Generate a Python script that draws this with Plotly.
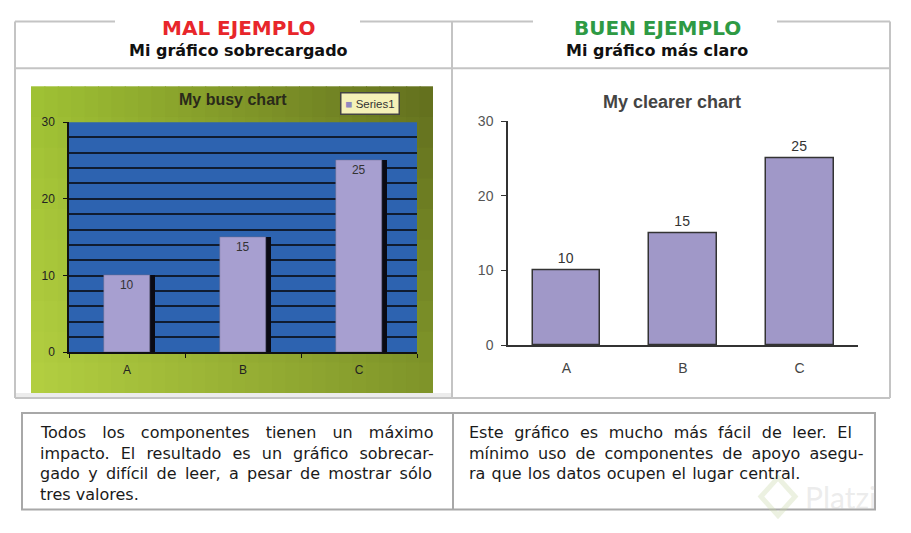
import plotly.graph_objects as go

# data
categories = ["A", "B", "C"]
values = [10, 15, 25]
series_name = "Series1"
y_ticks = [0, 10, 20, 30]

header_left = "MAL EJEMPLO"
sub_left = "Mi gráfico sobrecargado"
header_right = "BUEN EJEMPLO"
sub_right = "Mi gráfico más claro"
title_busy = "My busy chart"
title_clear = "My clearer chart"
text_left = ["Todos los componentes tienen un máximo",
             "impacto. El resultado es un gráfico sobrecar-",
             "gado y difícil de leer, a pesar de mostrar sólo",
             "tres valores."]
text_right = ["Este gráfico es mucho más fácil de leer. El",
              "mínimo uso de componentes de apoyo asegu-",
              "ra que los datos ocupen el lugar central."]

W, H = 911, 533
# page offset seen in the screenshot, compensate so pixels land where the reference has them
def px(x):
    return (x - 8) / W
def py(y):
    return 1 - (y / 0.974 - 14.8) / H

fig = go.Figure()

# busy chart: shadow + bars
fig.add_trace(go.Bar(x=categories, y=values, width=0.4, offset=-0.16,
                     marker=dict(color="#0a0a14", line=dict(width=0)),
                     showlegend=False, hoverinfo="skip", xaxis="x", yaxis="y"))
fig.add_trace(go.Bar(x=categories, y=values, width=0.4, offset=-0.2, name=series_name,
                     marker=dict(color="#a79fd0", line=dict(color="#6a6a8a", width=0.5)),
                     text=[str(v) for v in values], textposition="inside",
                     insidetextanchor="end", showlegend=False,
                     textfont=dict(family="Liberation Sans", size=12, color="#333"),
                     xaxis="x", yaxis="y"))

# clear chart
fig.add_trace(go.Bar(x=categories, y=values, width=0.58, showlegend=False,
                     marker=dict(color="#a098c8", line=dict(color="#333", width=1.5)),
                     text=[str(v) for v in values], textposition="outside",
                     textfont=dict(family="Liberation Sans", size=14, color="#333"),
                     cliponaxis=False, xaxis="x2", yaxis="y2"))

shapes = []
# green gradient behind busy chart
x0, x1, y0, y1 = 31, 433, 85, 393
nx, ny = 30, 10
tl, bl, tr, br = (160, 194, 52), (180, 208, 66), (98, 110, 30), (128, 150, 42)
for i in range(nx):
    for j in range(ny):
        u = (i + 0.5) / nx
        v = (j + 0.5) / ny
        c = [int(tl[k]*(1-u)*(1-v) + tr[k]*u*(1-v) + bl[k]*(1-u)*v + br[k]*u*v) for k in range(3)]
        xa = x0 + (x1 - x0) * i / nx
        xb = x0 + (x1 - x0) * (i + 1) / nx + 1
        ya = y0 + (y1 - y0) * j / ny
        yb = y0 + (y1 - y0) * (j + 1) / ny + 1
        shapes.append(dict(type="rect", xref="paper", yref="paper", layer="below",
                           x0=px(xa), x1=px(min(xb, x1)), y0=py(ya), y1=py(min(yb, y1)),
                           fillcolor="rgb(%d,%d,%d)" % tuple(c), line=dict(width=0)))
# grey strip under busy image
shapes.append(dict(type="rect", xref="paper", yref="paper", layer="below",
                   x0=px(16), x1=px(451), y0=py(398), y1=py(393),
                   fillcolor="#ececec", line=dict(width=0)))
# blue plot area
shapes.append(dict(type="rect", xref="x domain", yref="y domain", layer="below",
                   x0=0, x1=1, y0=0, y1=1, fillcolor="#2d63b0", line=dict(width=0)))

# frame lines
grey = "#c4c4c4"
def seg(xa, ya, xb, yb, color=grey, w=2):
    shapes.append(dict(type="line", xref="paper", yref="paper",
                       x0=px(xa), y0=py(ya), x1=px(xb), y1=py(yb),
                       line=dict(color=color, width=w)))
top = 20
seg(15, top, 115, top)
seg(360, top, 533, top)
seg(777, top, 890, top)
seg(15, top, 15, 398)
seg(452, top, 452, 398)
seg(890, top, 890, 398)
seg(15, 67, 890, 67)
seg(15, 398, 890, 398)
shapes.append(dict(type="rect", xref="paper", yref="paper",
                   x0=px(22), x1=px(875), y0=py(510), y1=py(413),
                   line=dict(color="#a8a8a8", width=2)))
seg(453, 413, 453, 510, color="#a8a8a8")
# faint watermark diamond
shapes.append(dict(type="path", xref="paper", yref="paper",
                   path="M %f %f L %f %f L %f %f L %f %f Z" % (
                       px(778), py(478), px(795), py(497), px(778), py(516), px(761), py(497)),
                   line=dict(color="rgba(200,215,170,0.35)", width=5)))

ann = []
hfont = "DejaVu Sans"
ann.append(dict(x=px(238), y=py(26.5), text="<b>%s</b>" % header_left,
                font=dict(family=hfont, size=20, color="#e8262b")))
ann.append(dict(x=px(238), y=py(49), text="<b>%s</b>" % sub_left,
                font=dict(family=hfont, size=16, color="#111")))
ann.append(dict(x=px(657), y=py(26.5), text="<b>%s</b>" % header_right,
                font=dict(family=hfont, size=20, color="#2e9a44")))
ann.append(dict(x=px(657), y=py(49), text="<b>%s</b>" % sub_right,
                font=dict(family=hfont, size=16, color="#111")))
ann.append(dict(x=px(233), y=py(98), text="<b>%s</b>" % title_busy,
                font=dict(family="Liberation Sans", size=16, color="#2a2a1a")))
ann.append(dict(x=px(672), y=py(101), text="<b>%s</b>" % title_clear,
                font=dict(family="Liberation Sans", size=18, color="#444")))
# legend box of the busy chart
ann.append(dict(x=px(370), y=py(102.5),
                text="<span style='color:#8f87bf'>■</span> " + series_name,
                font=dict(family="Liberation Sans", size=11.5, color="#333"),
                bgcolor="#f5f1b8", bordercolor="#444", borderwidth=1.5, borderpad=4))
# extra word spacing to imitate the justified paragraphs
spacing_left = [11, 6, 3.2, 0]
spacing_right = [5.5, 4, 1]
tfont = dict(family="DejaVu Sans", size=16, color="#1a1a1a")
for k, line in enumerate(text_left):
    ann.append(dict(x=px(38), y=py(433 + 20.5 * k), xanchor="left", font=tfont,
                    text="<span style='word-spacing:%gpx'>%s</span>" % (spacing_left[k], line)))
for k, line in enumerate(text_right):
    ann.append(dict(x=px(467), y=py(433 + 20.5 * k), xanchor="left", font=tfont,
                    text="<span style='word-spacing:%gpx'>%s</span>" % (spacing_right[k], line)))
ann.append(dict(x=px(803), y=py(497), text="Platzi", xanchor="left",
                font=dict(family="Lato", size=30, color="rgba(200,200,200,0.35)")))
for a in ann:
    a.update(xref="paper", yref="paper", showarrow=False)
    a.setdefault("xanchor", "center")
    a["yanchor"] = "middle"

fig.update_layout(
    width=W, height=H, margin=dict(l=0, r=0, t=0, b=0),
    paper_bgcolor="white", plot_bgcolor="rgba(0,0,0,0)",
    barmode="overlay", bargap=0, shapes=shapes, annotations=ann,
    showlegend=False,
    xaxis=dict(domain=[px(69), px(417)], range=[-0.5, 2.5], type="category",
               showline=True, linecolor="#111", linewidth=1.5,
               ticks="outside", tickson="boundaries", ticklen=4, tickcolor="#111",
               showgrid=False, ticklabelstandoff=6,
               tickfont=dict(family="Liberation Sans", size=12, color="#222"),
               anchor="y"),
    yaxis=dict(domain=[py(352), py(121)], range=[0, 30], tickmode="array", tickvals=y_ticks,
               showline=True, linecolor="#111", linewidth=1.5,
               ticks="outside", ticklen=4, tickcolor="#111",
               showgrid=True, gridcolor="#101c30", gridwidth=2,
               minor=dict(dtick=2, tick0=0, showgrid=True, gridcolor="#101c30", gridwidth=1.5),
               zeroline=False, ticklabelstandoff=6,
               tickfont=dict(family="Liberation Sans", size=12, color="#222"),
               anchor="x"),
    xaxis2=dict(domain=[px(508), px(858)], range=[-0.5, 2.5], type="category",
                showline=True, linecolor="#333", linewidth=1.5,
                ticks="", showgrid=False, ticklabelstandoff=9,
                tickfont=dict(family="Liberation Sans", size=14, color="#444"),
                anchor="y2"),
    yaxis2=dict(domain=[py(345), py(120)], range=[0, 30], tickmode="array", tickvals=y_ticks,
                showline=True, linecolor="#333", linewidth=1.5,
                ticks="outside", ticklen=5, tickcolor="#333",
                showgrid=False, zeroline=False, ticklabelstandoff=5,
                tickfont=dict(family="Liberation Sans", size=14, color="#555"),
                anchor="x2"),
)

fig.write_html("out.html")
